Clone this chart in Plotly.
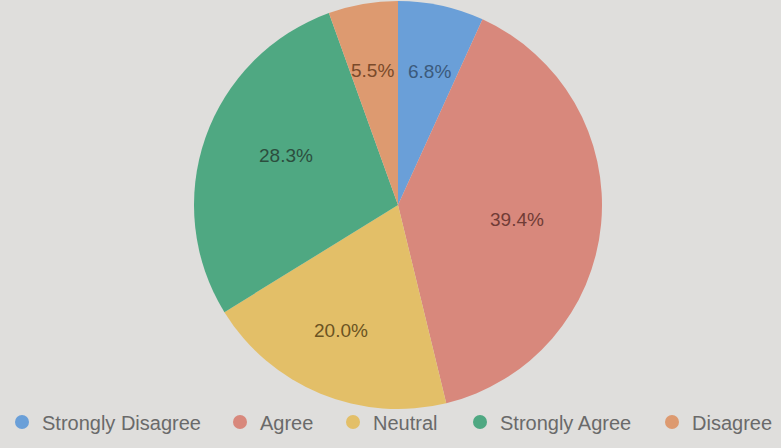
import math
import plotly.graph_objects as go

labels = ["Strongly Disagree", "Agree", "Neutral", "Strongly Agree", "Disagree"]
values = [6.8, 39.4, 20.0, 28.3, 5.5]
colors = ["#6a9fd8", "#d8887c", "#e3bf68", "#4fa882", "#dd9a70"]
text_colors = ["#3b5a7c", "#703c36", "#6b5322", "#2c4e3e", "#7a4a2a"]

W, H = 781, 448
cx, cy, R = 398, 205, 204  # pixel centre (from top) and radius
legend_marker_x = [22, 240, 353, 480, 672]  # legend layout positions (px)

fig = go.Figure()
fig.add_trace(go.Pie(
    labels=labels, values=values, sort=False, direction="clockwise", rotation=0,
    marker=dict(colors=colors, line=dict(width=0)),
    textinfo="none", showlegend=False, hoverinfo="label+percent",
    domain=dict(x=[(cx - R) / W, (cx + R) / W],
                y=[max(0, (H - cy - R) / H), min(1, (H - cy + R) / H)]),
))

legend_layout = {}
for i, (lab, col) in enumerate(zip(labels, colors)):
    key = "legend" if i == 0 else f"legend{i + 1}"
    fig.add_trace(go.Scatter(x=[None], y=[None], mode="markers", name=lab, legend=key,
                             marker=dict(color=col, size=14, symbol="circle")))
    legend_layout[key] = dict(
        x=(legend_marker_x[i] - 20) / W, xanchor="left", y=26 / H, yanchor="middle",
        font=dict(size=20, color="#6a6a6a", family="Liberation Sans"),
        bgcolor="rgba(0,0,0,0)")

total = sum(values)
cum = 0.0
rl = 0.73 * R
for v, tc in zip(values, text_colors):
    a = math.radians((cum + v / 2) / total * 360)
    cum += v
    px = cx + rl * math.sin(a)
    py = cy - rl * math.cos(a)
    fig.add_annotation(x=px / W, y=1 - py / H, xref="paper", yref="paper",
                       text=f"{v / total * 100:.1f}%", showarrow=False,
                       font=dict(size=19, color=tc, family="Liberation Sans"))

fig.update_layout(
    width=W, height=H, margin=dict(l=0, r=0, t=0, b=0),
    paper_bgcolor="#dfdedc", plot_bgcolor="rgba(0,0,0,0)",
    xaxis=dict(visible=False), yaxis=dict(visible=False),
    **legend_layout,
)
fig.write_html("out.html", config={"displayModeBar": False},
               post_script="document.body.style.margin='0';document.body.style.background='#dfdedc';")
